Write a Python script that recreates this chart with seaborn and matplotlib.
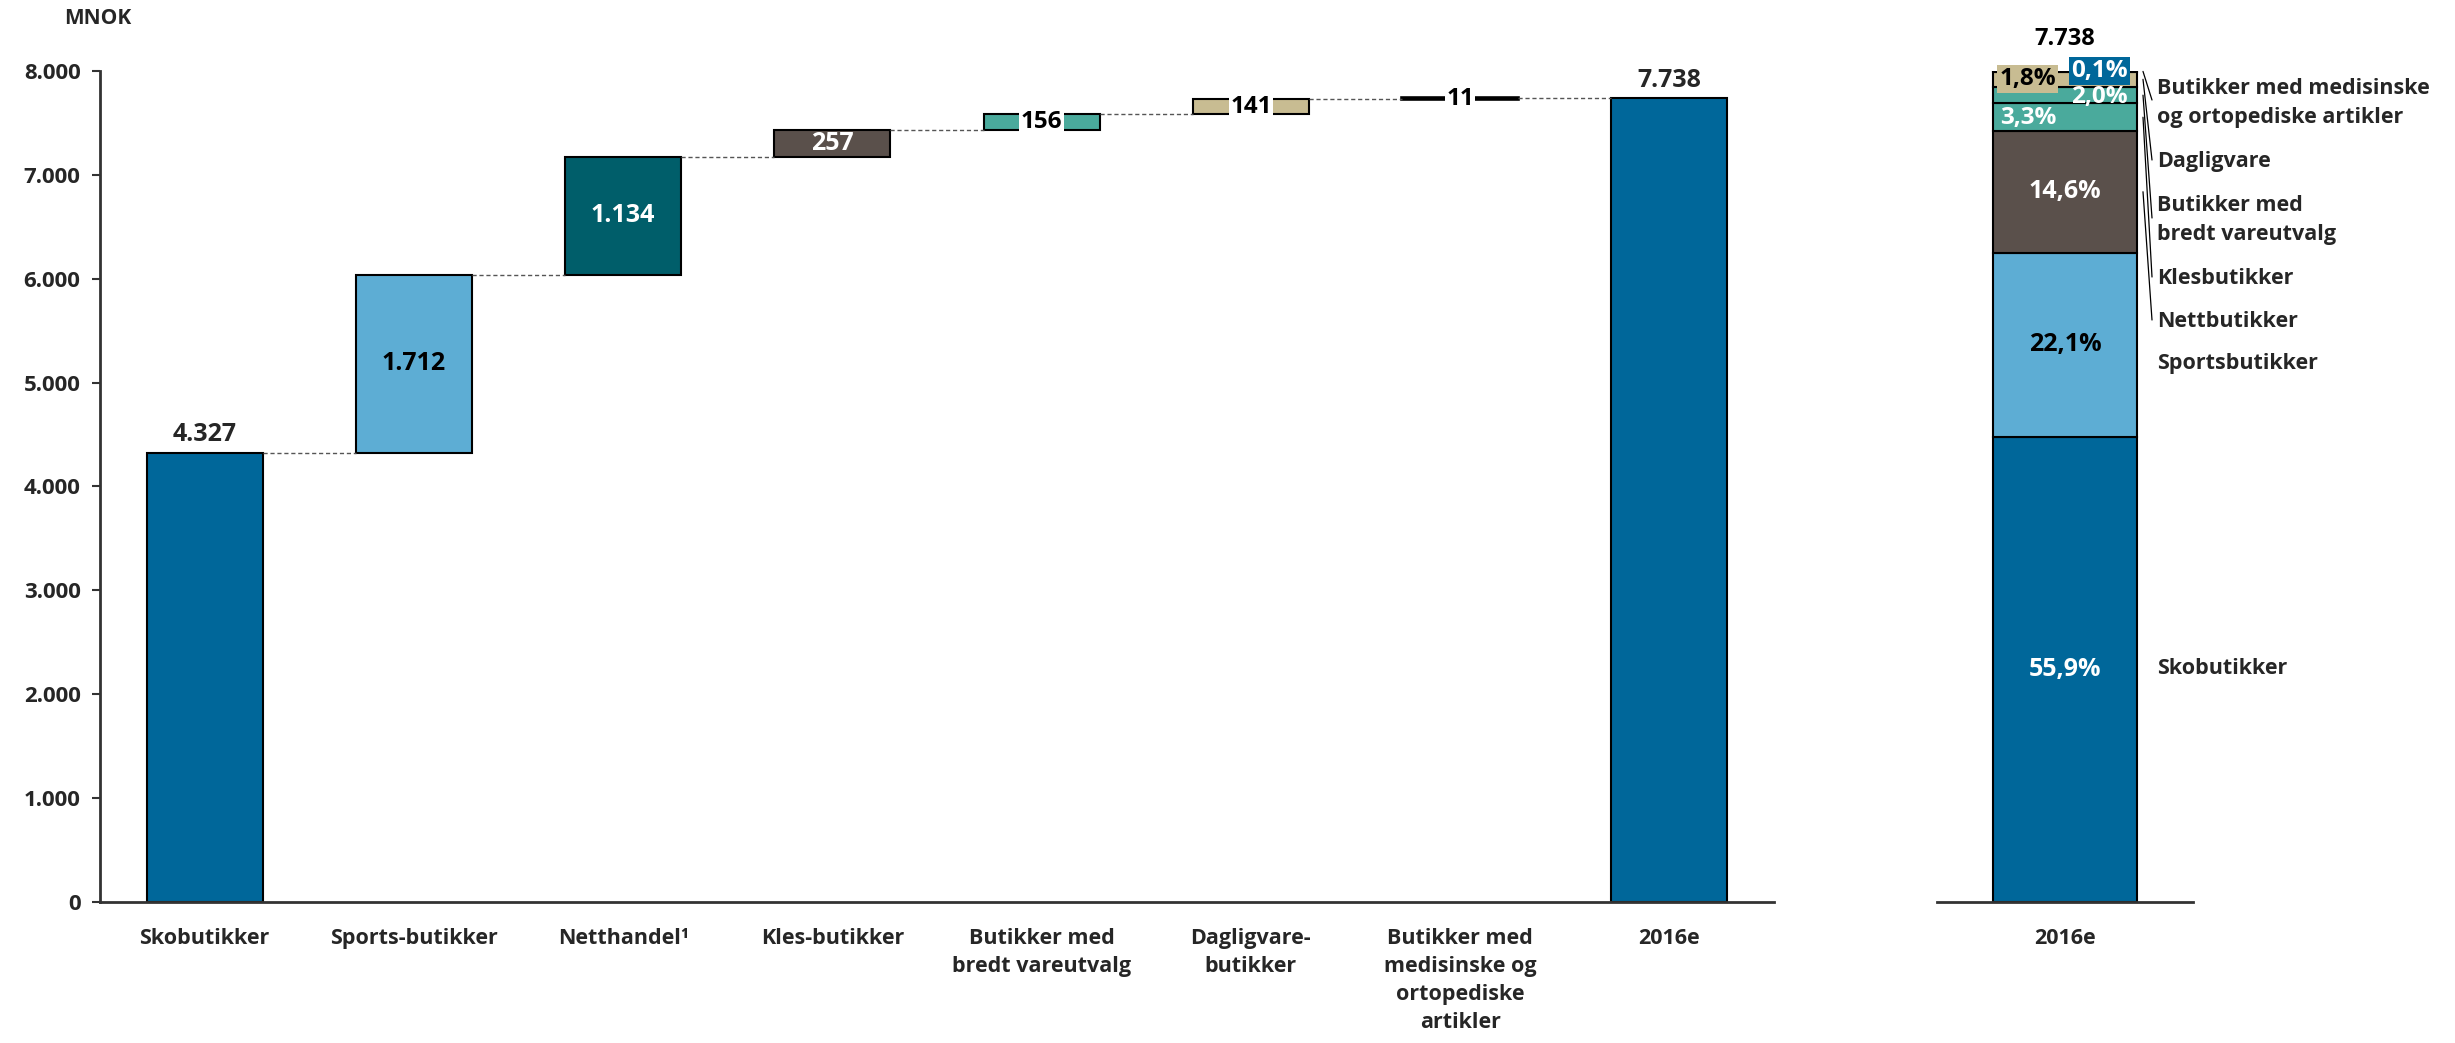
import numpy as np
import pandas as pd
import matplotlib
matplotlib.use("Agg")
import matplotlib.pyplot as plt
import seaborn as sns

# ---------------- data ----------------
categories = ["Skobutikker", "Sports-butikker", "Netthandel¹", "Kles-butikker",
              "Butikker med\nbredt vareutvalg", "Dagligvare-\nbutikker",
              "Butikker med\nmedisinske og\nortopediske\nartikler", "2016e"]
values = [4327, 1712, 1134, 257, 156, 141, 11, 7738]
value_labels = ["4.327", "1.712", "1.134", "257", "156", "141", "11", "7.738"]
bar_colors = ["#00679A", "#5DADD4", "#005E6A", "#5A504B", "#4AAA9C", "#C8BC92", "#000000", "#00679A"]
yticks = [0, 1000, 2000, 3000, 4000, 5000, 6000, 7000, 8000]
ytick_labels = ["0", "1.000", "2.000", "3.000", "4.000", "5.000", "6.000", "7.000", "8.000"]

share_segments = ["Skobutikker", "Sportsbutikker", "Nettbutikker", "Klesbutikker",
                  "Butikker med\nbredt vareutvalg", "Dagligvare",
                  "Butikker med medisinske\nog ortopediske artikler"]
share_values = [55.9, 22.1, 14.6, 3.3, 2.0, 1.8, 0.1]
share_labels = ["55,9%", "22,1%", "14,6%", "3,3%", "2,0%", "1,8%", "0,1%"]
share_colors = ["#00679A", "#5DADD4", "#5A504B", "#4AAA9C", "#4AAA9C", "#C8BC92", "#00679A"]
share_category = "2016e"
share_total_label = "7.738"

# ---------------- style ----------------
sns.set_style("white")
plt.rcParams["font.family"] = ["Open Sans", "DejaVu Sans"]
plt.rcParams["font.weight"] = "bold"

FS = 18
W, H = 2455, 1043
fig = plt.figure(figsize=(W / 100, H / 100), dpi=100)
AX_BOTTOM, AX_TOP = 902, 71
ax = fig.add_axes([100 / W, (H - AX_BOTTOM) / H, 1674 / W, (AX_BOTTOM - AX_TOP) / H])

# waterfall geometry
n = len(values)
bottoms = []
cum = 0
for i, v in enumerate(values):
    if i == 0 or i == n - 1:
        bottoms.append(0)
    else:
        bottoms.append(cum)
    if i < n - 1:
        cum += v

df = pd.DataFrame({"cat": categories, "val": values})
BW = 0.555
sns.barplot(data=df, x="cat", y="val", hue="cat",
            palette=dict(zip(categories, bar_colors)), legend=False,
            width=BW, edgecolor="black", linewidth=1.5, saturation=1, ax=ax)
bars = [p for p in ax.patches]
for p, b in zip(bars, bottoms):
    p.set_y(b)
bars[6].set_linewidth(2.6)

ax.set_xlim(-0.5, n - 0.5)
ax.set_ylim(0, 8000)
ax.set_yticks(yticks)
ax.set_yticklabels(ytick_labels, fontsize=16, fontweight="bold")
ax.set_xlabel("")
ax.set_ylabel("")
ax.tick_params(axis="y", direction="out", length=6, width=1.5, pad=8, left=True, color="#333333")
ax.tick_params(axis="x", length=0, pad=19)
for lab in ax.get_xticklabels():
    lab.set_fontsize(15.5)
    lab.set_fontweight("bold")
    lab.set_linespacing(1.42)
    lab.set_verticalalignment("top")
for s in ["top", "right"]:
    ax.spines[s].set_visible(False)
for s in ["left", "bottom"]:
    ax.spines[s].set_color("#333333")
    ax.spines[s].set_linewidth(2)

# connectors
for i in range(n - 1):
    level = bottoms[i] + values[i]
    ax.plot([i + BW / 2, i + 1 - BW / 2], [level, level], color="#555555",
            lw=1, linestyle=(0, (3, 2)), zorder=1)

# value labels
for i, (v, b, lbl) in enumerate(zip(values, bottoms, value_labels)):
    mid = b + v / 2
    if i in (0, n - 1):
        ax.annotate(lbl, (i, b + v), xytext=(0, 4), textcoords="offset points",
                    ha="center", va="bottom", fontsize=FS, fontweight="bold")
    elif i in (1, 2, 3):
        col = "black" if i == 1 else "white"
        ax.text(i, mid, lbl, ha="center", va="center", fontsize=FS,
                fontweight="bold", color=col)
    else:
        ax.text(i, mid, lbl, ha="center", va="center", fontsize=17.5,
                fontweight="bold", color="black",
                bbox=dict(facecolor="white", edgecolor="none", pad=1.0))

fig.text(64 / W, 1 - 18 / H, "MNOK", ha="left", va="center", fontsize=15, fontweight="bold")

# ---------------- share bar ----------------
ax2 = fig.add_axes([1937 / W, (H - AX_BOTTOM) / H, 256 / W, (AX_BOTTOM - AX_TOP) / H])
sdf = pd.DataFrame({"cat": [share_category] * len(share_values),
                    "seg": share_segments, "val": share_values})
sns.barplot(data=sdf, x="cat", y="val", hue="seg",
            palette=dict(zip(share_segments, share_colors)), dodge=False,
            legend=False, width=0.56, edgecolor="black", linewidth=1.5,
            saturation=1, ax=ax2)
sb = np.concatenate([[0], np.cumsum(share_values)[:-1]])
for p, b in zip(ax2.patches, sb):
    p.set_y(b)
total = float(np.sum(share_values))
ax2.set_xlim(-0.5, 0.5)
ax2.set_ylim(0, total)
ax2.set_yticks([])
ax2.set_xlabel("")
ax2.set_ylabel("")
ax2.tick_params(axis="x", length=0, pad=19)
for lab in ax2.get_xticklabels():
    lab.set_fontsize(15.5)
    lab.set_fontweight("bold")
for s in ["top", "right", "left"]:
    ax2.spines[s].set_visible(False)
ax2.spines["bottom"].set_color("#333333")
ax2.spines["bottom"].set_linewidth(2)

def py(px):
    """pixel row -> share-axis value"""
    return (AX_BOTTOM - px) / (AX_BOTTOM - AX_TOP) * total

mids = sb + np.array(share_values) / 2
# in-bar labels
ax2.text(0, mids[0], share_labels[0], ha="center", va="center", color="white", fontsize=FS, fontweight="bold")
ax2.text(0, mids[1], share_labels[1], ha="center", va="center", color="black", fontsize=FS, fontweight="bold")
ax2.text(0, mids[2], share_labels[2], ha="center", va="center", color="white", fontsize=FS, fontweight="bold")
ax2.text(-0.145, py(118), share_labels[3], ha="center", va="center", color="white", fontsize=17.5, fontweight="bold")
ax2.text(0.135, py(97), share_labels[4], ha="center", va="center", color="white", fontsize=17.5, fontweight="bold")
ax2.text(-0.145, py(79), share_labels[5], ha="center", va="center", color="black", fontsize=17.5, fontweight="bold",
         bbox=dict(facecolor=share_colors[5], edgecolor="none", pad=1.5), clip_on=False)
ax2.text(0.135, py(71), share_labels[6], ha="center", va="center", color="white", fontsize=17.5, fontweight="bold",
         bbox=dict(facecolor=share_colors[6], edgecolor="none", pad=1.5), clip_on=False)
ax2.text(0, py(39), share_total_label, ha="center", va="center", color="black", fontsize=17, fontweight="bold",
         clip_on=False)

# side labels
label_rows = [668, 364, 322, 279, 220, 162, 103]
LX = (2157 - 2065) / 256
for seg, row in zip(share_segments, label_rows):
    ax2.text(LX, py(row), seg, ha="left", va="center", fontsize=15.5, fontweight="bold",
             linespacing=1.45, clip_on=False)

# leader lines (segments 2..6 -> labels)
leader_ends = [320, 277, 218, 160, 100]
x0 = (2143 - 2065) / 256
x1 = (2152 - 2065) / 256
for k, end in zip(range(2, 7), leader_ends):
    ax2.plot([x0, x1], [mids[k], py(end)], color="black", lw=0.9, clip_on=False)

fig.savefig("out.png", dpi=100, facecolor="white")
